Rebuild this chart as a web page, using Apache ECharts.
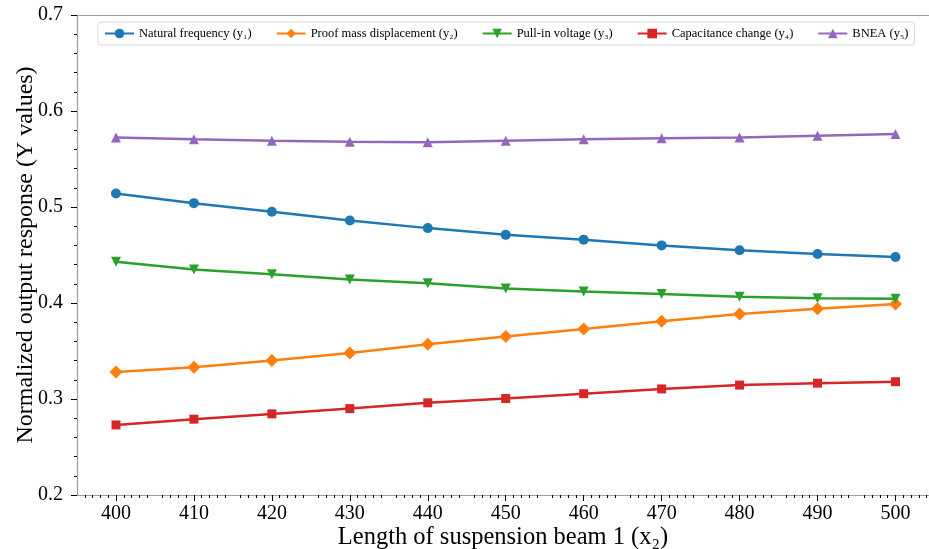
<!DOCTYPE html>
<html>
<head>
<meta charset="utf-8">
<script src="https://cdn.jsdelivr.net/npm/echarts@6/dist/echarts.min.js"></script>
<style>html,body{margin:0;padding:0;background:#fff;}#c{width:929px;height:549px;}</style>
</head>
<body>
<div id="c"></div>
<script>
const xValues = [400, 410, 420, 430, 440, 450, 460, 470, 480, 490, 500];
const yTicks = [0.2, 0.3, 0.4, 0.5, 0.6, 0.7];
const naturalFrequency = [0.514, 0.504, 0.495, 0.486, 0.478, 0.471, 0.466, 0.460, 0.455, 0.451, 0.448];
const proofMassDisplacement = [0.328, 0.333, 0.340, 0.348, 0.357, 0.365, 0.373, 0.381, 0.3885, 0.394, 0.399];
const pullInVoltage = [0.443, 0.435, 0.430, 0.4245, 0.4205, 0.415, 0.412, 0.4095, 0.4065, 0.405, 0.4045];
const capacitanceChange = [0.273, 0.279, 0.2845, 0.290, 0.296, 0.3005, 0.3055, 0.3105, 0.3145, 0.3165, 0.318];
const bnea = [0.5725, 0.5705, 0.569, 0.568, 0.5675, 0.569, 0.5705, 0.5715, 0.5725, 0.5743, 0.576];
const seriesNames = ['Natural frequency (y\u2081)', 'Proof mass displacement (y\u2082)', 'Pull-in voltage (y\u2083)', 'Capacitance change (y\u2084)', 'BNEA (y\u2085)'];
const xTitle = 'Length of suspension beam 1 (x\u2082)';
const yTitle = 'Normalized output response (Y values)';

const colors = ['#1f77b4', '#ff7f0e', '#2ca02c', '#d62728', '#9467bd'];
const symbols = [
  {symbol: 'circle', size: 10, rotate: 0},
  {symbol: 'diamond', size: 13, rotate: 0},
  {symbol: 'triangle', size: 10, rotate: 180},
  {symbol: 'rect', size: 9, rotate: 0},
  {symbol: 'triangle', size: 10, rotate: 0}
];
const allData = [naturalFrequency, proofMassDisplacement, pullInVoltage, capacitanceChange, bnea];
const font = 'Liberation Serif, Times New Roman, serif';

const series = allData.map((d, i) => ({
  name: seriesNames[i],
  type: 'line',
  data: xValues.map((x, j) => [x, d[j]]),
  symbol: symbols[i].symbol,
  symbolSize: symbols[i].size,
  symbolRotate: symbols[i].rotate,
  lineStyle: {width: 2.5, color: colors[i]},
  itemStyle: {color: colors[i]},
  color: colors[i],
  z: 3
}));

const chart = echarts.init(document.getElementById('c'), null, {renderer: 'canvas'});
chart.setOption({
  animation: false,
  backgroundColor: '#fff',
  grid: {left: 77, right: 0, top: 15, bottom: 54, containLabel: false, outerBoundsMode: 'none'},
  legend: {
    left: 98, top: 22,
    padding: [5, 6, 5, 6],
    itemGap: 24,
    itemWidth: 29, itemHeight: 12,
    borderColor: '#d9d9d9', borderWidth: 1, borderRadius: 3,
    textStyle: {fontFamily: font, fontSize: 12.5, color: '#000'},
    data: seriesNames
  },
  xAxis: [{
    type: 'value', min: 395, max: 504.3, interval: 5,
    name: xTitle, nameLocation: 'middle', nameGap: 30, nameMoveOverlap: false,
    nameTextStyle: {fontFamily: font, fontSize: 24.5, color: '#000'},
    axisLine: {show: true, lineStyle: {color: '#a0a0a0', width: 1.2}},
    axisTick: {show: true, customValues: xValues, length: 6, lineStyle: {color: '#000', width: 1}},
    minorTick: {show: true, splitNumber: 5, length: 3, lineStyle: {color: '#000', width: 1}},
    axisLabel: {customValues: xValues, margin: 9, fontFamily: font, fontSize: 20, color: '#000'},
    splitLine: {show: false}, minorSplitLine: {show: false}
  }, {
    type: 'value', position: 'top', min: 395, max: 504.3,
    axisLine: {show: true, lineStyle: {color: '#a0a0a0', width: 1.2}},
    axisTick: {show: false}, axisLabel: {show: false}, splitLine: {show: false}
  }],
  yAxis: {
    type: 'value', min: yTicks[0], max: yTicks[yTicks.length - 1], interval: 0.1,
    name: yTitle, nameLocation: 'middle', nameGap: 39, nameMoveOverlap: false,
    nameTextStyle: {fontFamily: font, fontSize: 24, color: '#000'},
    axisLine: {show: true, lineStyle: {color: '#a0a0a0', width: 1.2}},
    axisTick: {show: true, length: 6, lineStyle: {color: '#000', width: 1}},
    minorTick: {show: true, splitNumber: 5, length: 3, lineStyle: {color: '#000', width: 1}},
    axisLabel: {margin: 14, fontFamily: font, fontSize: 20, color: '#000', formatter: v => v.toFixed(1)},
    splitLine: {show: false}
  },
  series: series
});
</script>
</body>
</html>
